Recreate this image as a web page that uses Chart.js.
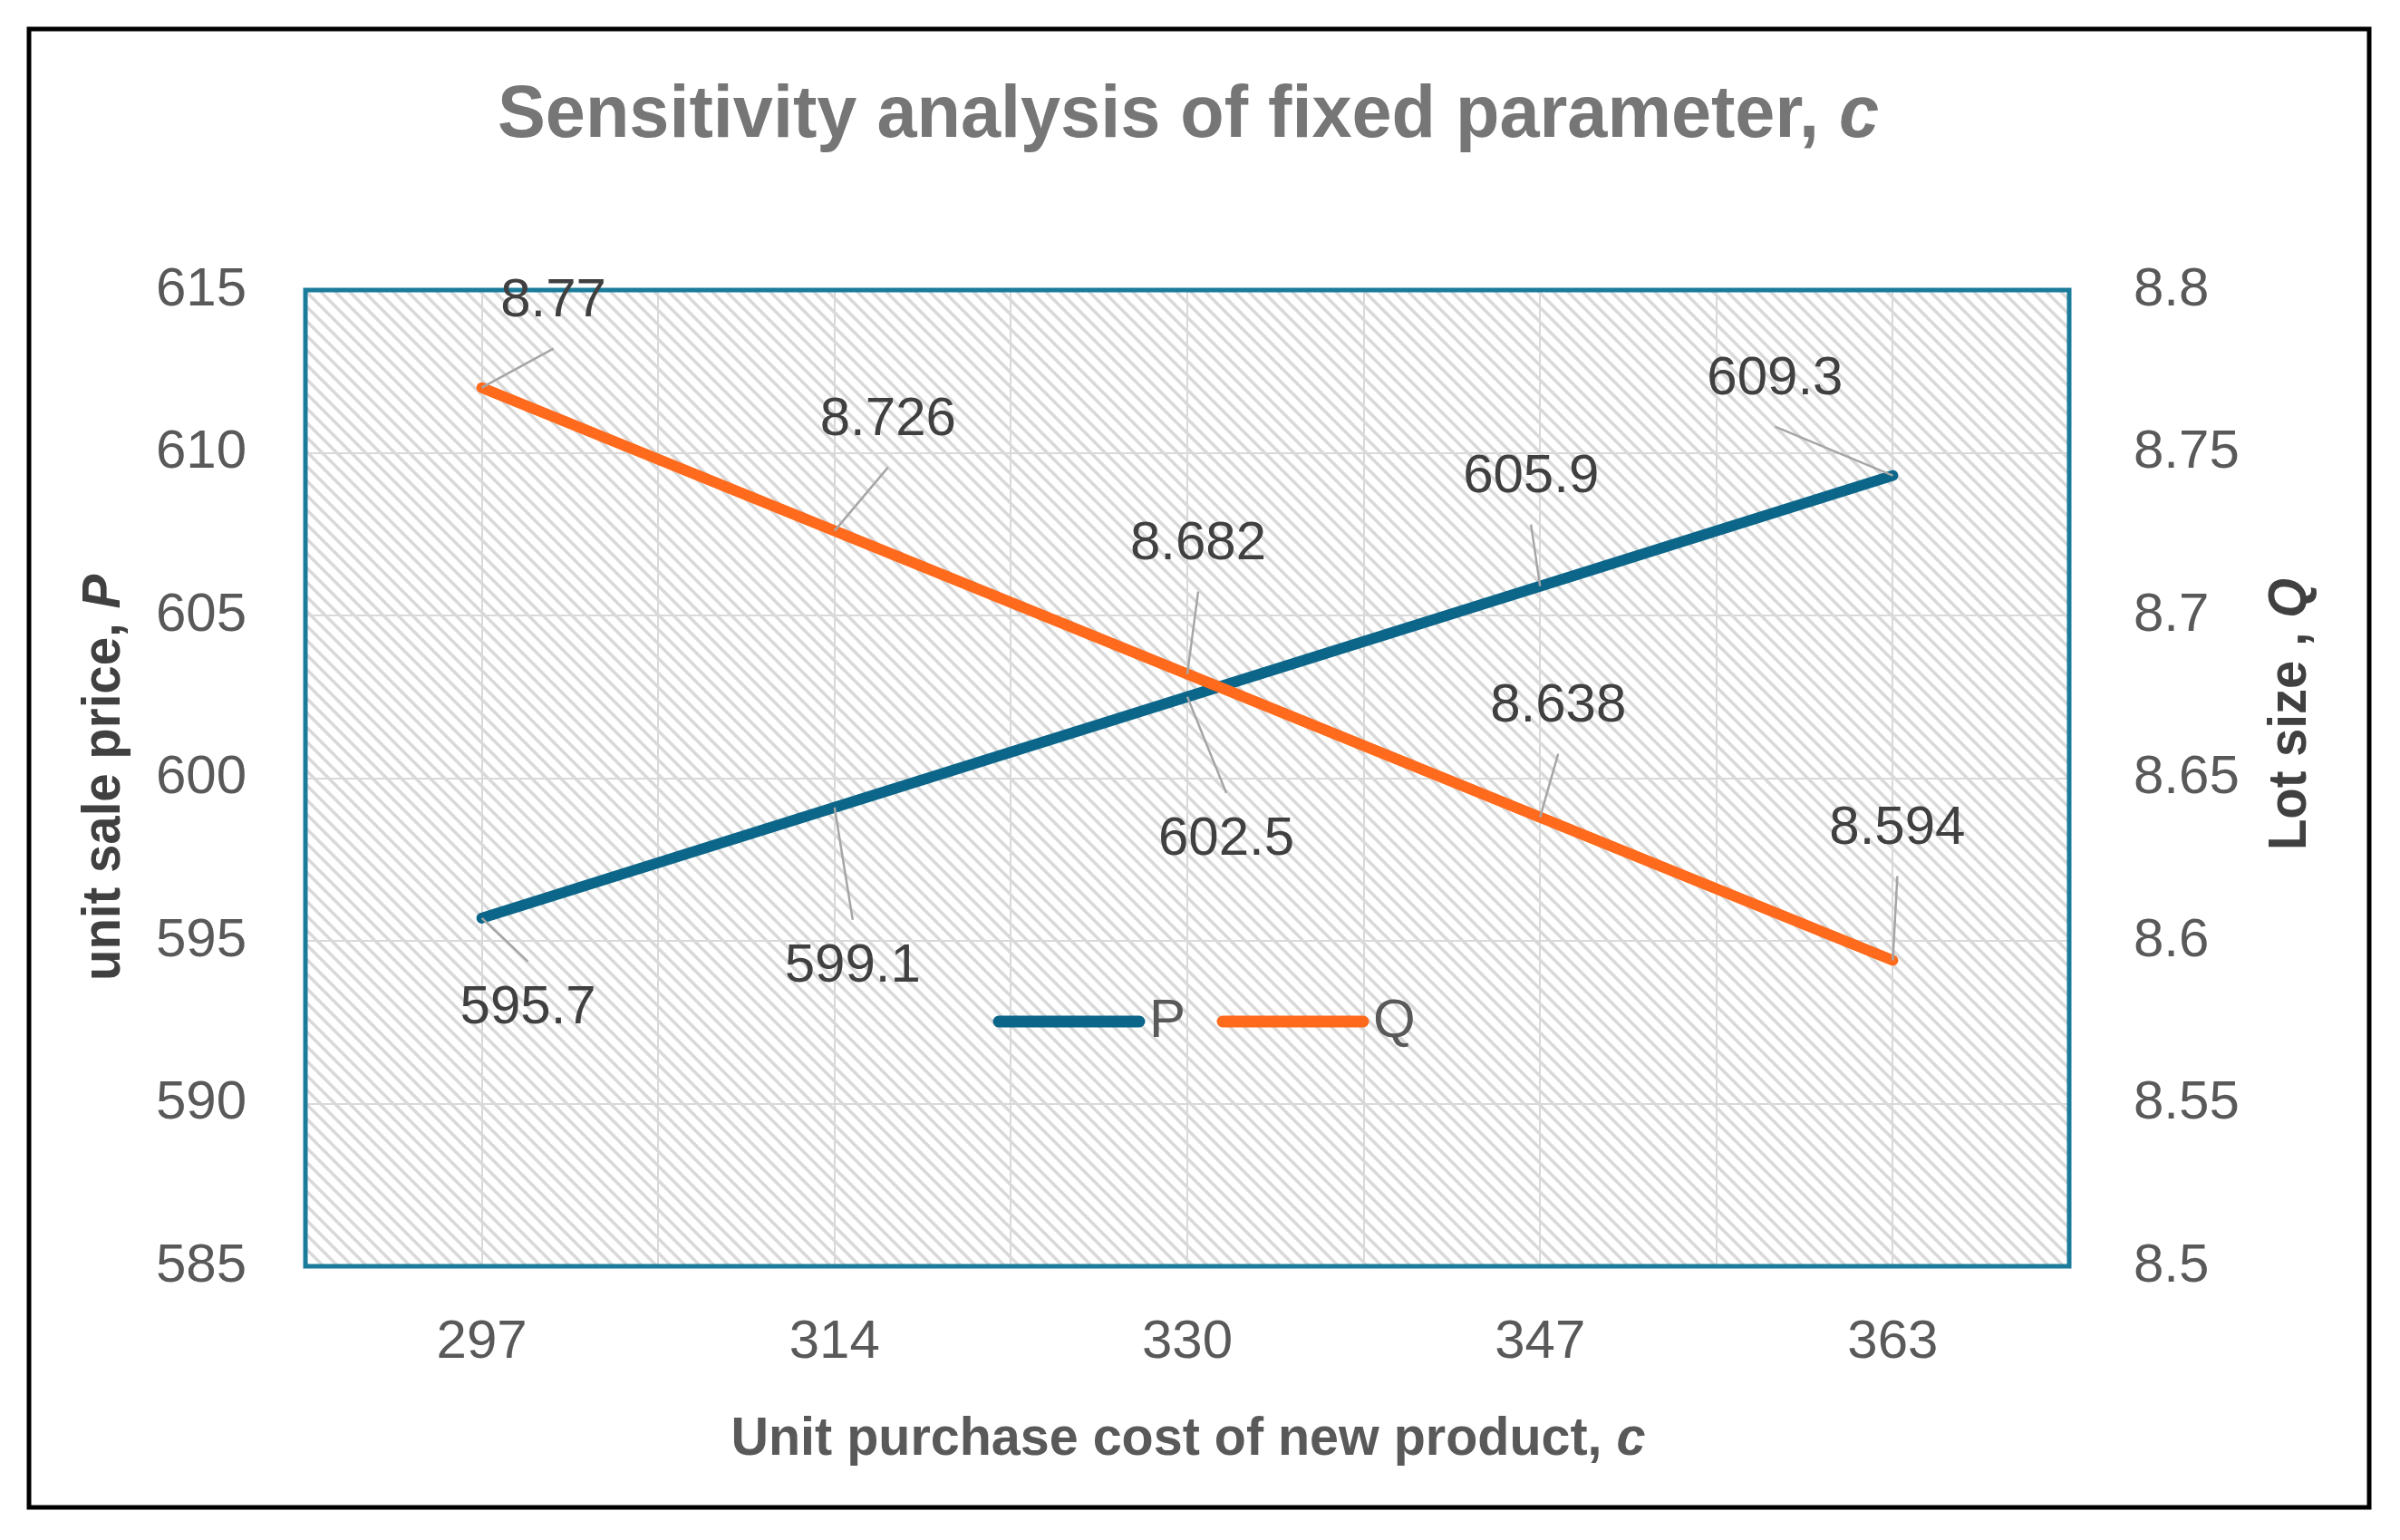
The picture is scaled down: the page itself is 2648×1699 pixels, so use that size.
<!DOCTYPE html>
<html>
<head>
<meta charset="utf-8">
<script src="https://cdn.jsdelivr.net/npm/chart.js@4.4.1/dist/chart.umd.min.js"></script>
<style>
  html, body { margin: 0; padding: 0; background: #fff; }
  #chart { display: block; }
</style>
</head>
<body>
<canvas id="chart" width="2648" height="1699"></canvas>
<script>
// Data
const costLabels = ["297", "314", "330", "347", "363"];
const pValues = [595.7, 599.1, 602.5, 605.9, 609.3];
const qValues = [8.77, 8.726, 8.682, 8.638, 8.594];
const pTicks = [585, 590, 595, 600, 605, 610, 615];
const qTicks = [8.5, 8.55, 8.6, 8.65, 8.7, 8.75, 8.8];

// label offsets from the point (px), P then Q
const pLabelOffsets = [[51, 100], [20, 176], [43, 158], [-10, -120], [-130, -106]];
const qLabelOffsets = [[79, -95], [59, -122], [12, -143], [20, -122], [5, -145]];

const FONT = "'Liberation Sans', Arial, sans-serif";
const pColor = "#0b6689";
const qColor = "#ff6a1c";

// hatch fill for the plot area
const makeHatch = (ctx) => {
  const s = 16;
  const tile = document.createElement("canvas");
  tile.width = s;
  tile.height = s;
  const t = tile.getContext("2d");
  t.fillStyle = "#ffffff";
  t.fillRect(0, 0, s, s);
  t.strokeStyle = "#d9d9d9";
  t.lineWidth = 3.5;
  for (let k = -1; k <= 1; k++) {
    t.beginPath();
    t.moveTo(k * s - 2, -2);
    t.lineTo(k * s + s + 2, s + 2);
    t.stroke();
  }
  return ctx.createPattern(tile, "repeat");
};

// mixed regular / italic text squeezed to a given width
const drawText = (ctx, parts, cx, cy, size, color, width, rotated) => {
  ctx.save();
  ctx.fillStyle = color;
  ctx.textBaseline = "middle";
  ctx.textAlign = "left";
  let total = 0;
  const widths = parts.map(([txt, italic]) => {
    ctx.font = (italic ? "italic " : "") + "bold " + size + "px " + FONT;
    const w = ctx.measureText(txt).width;
    total += w;
    return w;
  });
  ctx.translate(cx, cy);
  if (rotated) ctx.rotate(-Math.PI / 2);
  ctx.scale(width ? width / total : 1, 1);
  let x = -total / 2;
  parts.forEach(([txt, italic], i) => {
    ctx.font = (italic ? "italic " : "") + "bold " + size + "px " + FONT;
    ctx.fillText(txt, x, 0);
    x += widths[i];
  });
  ctx.restore();
};

const decorPlugin = {
  id: "decor",
  beforeDraw(chart) {
    const { ctx, chartArea: a } = chart;
    ctx.save();
    ctx.fillStyle = "#ffffff";
    ctx.fillRect(0, 0, chart.width, chart.height);
    ctx.strokeStyle = "#000000";
    ctx.lineWidth = 5;
    ctx.strokeRect(32, 32, 2582, 1631);
    ctx.fillStyle = makeHatch(ctx);
    ctx.fillRect(a.left, a.top, a.right - a.left, a.bottom - a.top);
    ctx.restore();
  },
  beforeDatasetsDraw(chart) {
    const { ctx, chartArea: a } = chart;
    ctx.save();
    ctx.strokeStyle = "#1a7b9b";
    ctx.lineWidth = 5;
    ctx.strokeRect(a.left, a.top, a.right - a.left, a.bottom - a.top);
    ctx.restore();
  },
  afterDatasetsDraw(chart) {
    const { ctx } = chart;
    const offsets = [pLabelOffsets, qLabelOffsets];
    ctx.save();
    ctx.font = "60px " + FONT;
    ctx.textAlign = "center";
    ctx.textBaseline = "middle";
    chart.data.datasets.forEach((ds, i) => {
      const meta = chart.getDatasetMeta(i);
      meta.data.forEach((pt, j) => {
        const [dx, dy] = offsets[i][j];
        const lx = pt.x + dx;
        const ly = pt.y + dy;
        const ey = ly + (dy < 0 ? 52 : -52);
        ctx.strokeStyle = "#a6a6a6";
        ctx.lineWidth = 2.5;
        ctx.beginPath();
        ctx.moveTo(pt.x, pt.y);
        ctx.lineTo(lx, ey);
        ctx.stroke();
        ctx.fillStyle = "#404040";
        ctx.fillText(String(ds.data[j]), lx, ly);
      });
    });
    ctx.restore();
  },
  afterDraw(chart) {
    const { ctx } = chart;
    // titles
    drawText(ctx, [["Sensitivity analysis of fixed parameter, ", false], ["c", true]],
      1311, 128, 82, "#767676", 1524, false);
    drawText(ctx, [["Unit purchase cost of new product, ", false], ["c", true]],
      1311, 1588, 60, "#595959", 1009, false);
    drawText(ctx, [["unit sale price, ", false], ["P", true]],
      115, 858, 60, "#404040", 448, true);
    drawText(ctx, [["Lot size , ", false], ["Q", true]],
      2527, 788, 60, "#404040", 300, true);

    // legend inside the plot
    const items = chart.data.datasets;
    const starts = [1102, 1349];
    ctx.save();
    ctx.lineCap = "round";
    ctx.lineWidth = 13;
    ctx.font = "60px " + FONT;
    ctx.textBaseline = "middle";
    ctx.textAlign = "left";
    items.forEach((ds, i) => {
      const x0 = starts[i];
      ctx.strokeStyle = ds.borderColor;
      ctx.beginPath();
      ctx.moveTo(x0, 1127);
      ctx.lineTo(x0 + 155, 1127);
      ctx.stroke();
      ctx.fillStyle = "#595959";
      ctx.fillText(ds.label, x0 + 166, 1127);
    });
    ctx.restore();
  },
};

const gridStyle = { color: "#d9d9d9", lineWidth: 2, drawTicks: false };
const tickFont = { family: FONT, size: 60 };

new Chart(document.getElementById("chart").getContext("2d"), {
  type: "line",
  data: {
    labels: costLabels,
    datasets: [
      {
        label: "P",
        data: pValues,
        yAxisID: "y",
        xAxisID: "x",
        borderColor: pColor,
        backgroundColor: pColor,
        borderWidth: 12,
        borderCapStyle: "round",
        borderJoinStyle: "round",
        pointRadius: 0,
        tension: 0,
        order: 1,
      },
      {
        label: "Q",
        data: qValues,
        yAxisID: "y1",
        xAxisID: "x",
        borderColor: qColor,
        backgroundColor: qColor,
        borderWidth: 12,
        borderCapStyle: "round",
        borderJoinStyle: "round",
        pointRadius: 0,
        tension: 0,
        order: 0,
      },
    ],
  },
  options: {
    responsive: false,
    animation: false,
    devicePixelRatio: 1,
    layout: { padding: { top: 320, left: 0, right: 0, bottom: 0 } },
    plugins: {
      legend: { display: false },
      title: { display: false },
      tooltip: { enabled: false },
    },
    scales: {
      x: {
        type: "category",
        offset: true,
        grid: { ...gridStyle, offset: false },
        border: { display: false },
        ticks: { font: tickFont, color: "#595959", padding: 48 },
        afterFit: (s) => { s.height = 302; },
      },
      x2: {
        type: "category",
        position: "bottom",
        offset: true,
        grid: { ...gridStyle, offset: true },
        border: { display: false },
        ticks: { display: false },
        afterFit: (s) => { s.height = 0; },
      },
      y: {
        position: "left",
        min: pTicks[0],
        max: pTicks[pTicks.length - 1],
        afterBuildTicks: (s) => { s.ticks = pTicks.map((v) => ({ value: v })); },
        grid: gridStyle,
        border: { display: false },
        ticks: { font: tickFont, color: "#595959", padding: 65 },
        afterFit: (s) => { s.width = 337; },
      },
      y1: {
        position: "right",
        min: qTicks[0],
        max: qTicks[qTicks.length - 1],
        afterBuildTicks: (s) => { s.ticks = qTicks.map((v) => ({ value: v })); },
        grid: { display: false },
        border: { display: false },
        ticks: {
          font: tickFont,
          color: "#595959",
          padding: 63,
          callback: (v) => String(v),
        },
        afterFit: (s) => { s.width = 365; },
      },
    },
  },
  plugins: [decorPlugin],
});
</script>
</body>
</html>
